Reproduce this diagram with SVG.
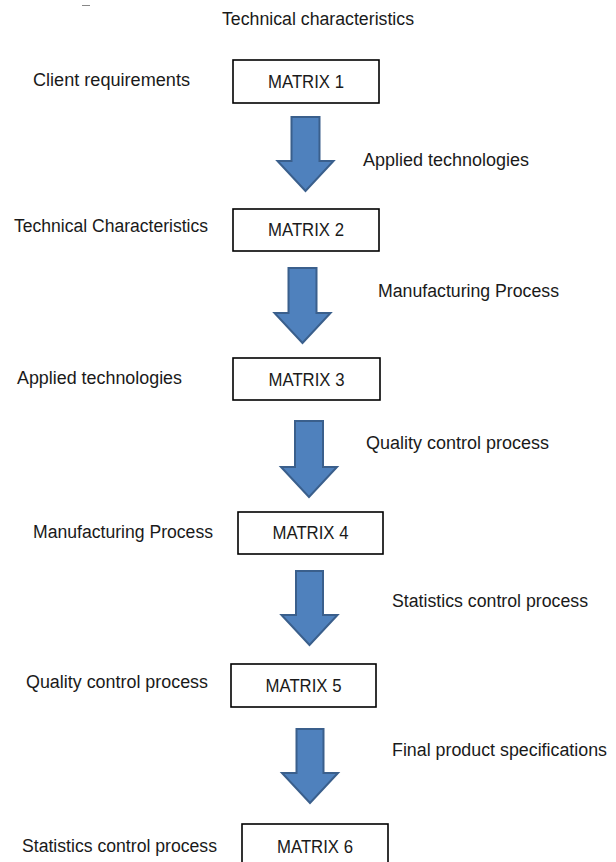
<svg xmlns="http://www.w3.org/2000/svg" width="616" height="862" viewBox="0 0 616 862">
<style>
text{font-family:"Liberation Sans",Arial,sans-serif;font-size:18px;fill:#1a1a1a}
.box rect{fill:#fff;stroke:#000;stroke-width:1.6}
.box text{text-anchor:middle}
.arrow{fill:#4F81BD;stroke:#3A5F8C;stroke-width:2;stroke-linejoin:miter}
</style>
<rect width="616" height="862" fill="#fff"/>
<line x1="82" y1="5.5" x2="90" y2="5.5" stroke="#888" stroke-width="1"/>
<g id="labels">
<text x="222" y="25" textLength="192" lengthAdjust="spacingAndGlyphs">Technical characteristics</text>
<text x="33" y="86" textLength="157" lengthAdjust="spacingAndGlyphs">Client requirements</text>
<text x="363" y="166" textLength="166" lengthAdjust="spacingAndGlyphs">Applied technologies</text>
<text x="14" y="232" textLength="194" lengthAdjust="spacingAndGlyphs">Technical Characteristics</text>
<text x="378" y="297" textLength="181" lengthAdjust="spacingAndGlyphs">Manufacturing Process</text>
<text x="17" y="384" textLength="165" lengthAdjust="spacingAndGlyphs">Applied technologies</text>
<text x="366" y="449" textLength="183" lengthAdjust="spacingAndGlyphs">Quality control process</text>
<text x="33" y="538" textLength="180" lengthAdjust="spacingAndGlyphs">Manufacturing Process</text>
<text x="392" y="607" textLength="196" lengthAdjust="spacingAndGlyphs">Statistics control process</text>
<text x="26" y="688" textLength="182" lengthAdjust="spacingAndGlyphs">Quality control process</text>
<text x="392" y="756" textLength="215" lengthAdjust="spacingAndGlyphs">Final product specifications</text>
<text x="22" y="852" textLength="195" lengthAdjust="spacingAndGlyphs">Statistics control process</text>
</g>
<g id="matrix1" class="box"><rect x="233" y="60" width="146" height="43"/><text x="306" y="88" textLength="76" lengthAdjust="spacingAndGlyphs">MATRIX 1</text></g>
<g id="matrix2" class="box"><rect x="233" y="209" width="146" height="42"/><text x="306" y="236" textLength="76" lengthAdjust="spacingAndGlyphs">MATRIX 2</text></g>
<g id="matrix3" class="box"><rect x="233" y="358" width="147" height="42"/><text x="306.5" y="386" textLength="76" lengthAdjust="spacingAndGlyphs">MATRIX 3</text></g>
<g id="matrix4" class="box"><rect x="238" y="512" width="145" height="42"/><text x="310.5" y="539" textLength="76" lengthAdjust="spacingAndGlyphs">MATRIX 4</text></g>
<g id="matrix5" class="box"><rect x="231" y="664" width="145" height="43"/><text x="303.5" y="692" textLength="76" lengthAdjust="spacingAndGlyphs">MATRIX 5</text></g>
<g id="matrix6" class="box"><rect x="242" y="824" width="146" height="50"/><text x="315" y="853" textLength="76" lengthAdjust="spacingAndGlyphs">MATRIX 6</text></g>
<g id="connectors">
<path class="arrow" d="M291.5,117 H319.5 V161 H333.5 L305.5,191 L277.5,161 H291.5 Z"/>
<path class="arrow" d="M288.5,268 H316.5 V313 H330.5 L302.5,343 L274.5,313 H288.5 Z"/>
<path class="arrow" d="M295,421 H323 V467 H337 L309,497 L281,467 H295 Z"/>
<path class="arrow" d="M296,571 H323 V615 H337.5 L309.5,645 L281.5,615 H296 Z"/>
<path class="arrow" d="M296.5,729 H323.5 V773 H338 L310,803 L282,773 H296.5 Z"/>
</g>
</svg>
